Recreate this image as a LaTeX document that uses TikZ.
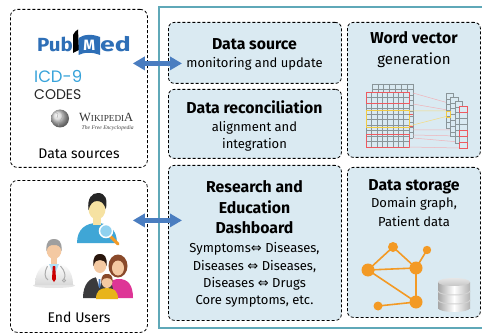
\documentclass[tikz,border=0pt]{standalone}
\usepackage{fontspec}
\setmainfont{Fira Sans}
\newfontfamily\symfont{DejaVu Sans}
\newfontfamily\logofont{Poppins}
\newfontfamily\wikifont{Liberation Serif}
\usetikzlibrary{arrows.meta,calc}
\definecolor{panel}{HTML}{DAEAF2}
\definecolor{frameteal}{HTML}{5FA8B8}
\definecolor{arrowblue}{HTML}{4A7DC0}
\definecolor{pubblue}{HTML}{2E6FB7}
\definecolor{icdblue}{HTML}{37A3DA}
\definecolor{gridgrey}{HTML}{8A9599}
\definecolor{gridred}{HTML}{EE5A60}
\definecolor{gridyellow}{HTML}{F2CC45}
\definecolor{linkpink}{HTML}{F1B2B8}
\definecolor{graphorange}{HTML}{F39A25}
\definecolor{userblue}{HTML}{3FA6D6}
\definecolor{skinlight}{HTML}{F6E2A2}
\definecolor{skin}{HTML}{F4C9A2}
\definecolor{lensblue}{HTML}{8FD1EF}
\definecolor{hairbrown}{HTML}{8A4A2B}
\definecolor{suit}{HTML}{3A3A3C}
\definecolor{dresspink}{HTML}{DE3596}
\definecolor{kidyellow}{HTML}{E8B41A}
\newcommand{\eqv}{{\symfont\char"21D4}}
\tikzset{
  panelbox/.style={draw=black, dash pattern=on 3pt off 2pt, line width=0.8pt,
    rounded corners=6pt, fill=panel, anchor=north west, inner sep=0pt},
  groupbox/.style={draw=black, dash pattern=on 3pt off 2pt, line width=0.8pt,
    rounded corners=7pt, anchor=north west, inner sep=0pt},
  ttl/.style={font=\fontsize{15.8}{17}\selectfont\bfseries, anchor=base, inner sep=0pt},
  txt/.style={font=\fontsize{13}{15}\selectfont, anchor=base, inner sep=0pt},
  grplabel/.style={font=\fontsize{14}{16}\selectfont, anchor=base, inner sep=0pt},
  biarrow/.style={arrowblue, line width=4.3pt,
    {Triangle[width=13pt,length=12pt]}-{Triangle[width=13pt,length=12pt]}},
  edge/.style={graphorange, line width=1.6pt},
  vtx/.style={fill=graphorange},
}
\begin{document}
\begin{tikzpicture}[x=1pt,y=-1pt]
\useasboundingbox (0,0) rectangle (482,334);
\clip (0,0) rectangle (482,334);
\fill[white] (0,0) rectangle (482,334);

% outer frame of the platform
\draw[frameteal, line width=1.3pt] (159,7) rectangle (495,328);

% left groups
\node[groupbox, minimum width=137pt, minimum height=158pt] (srcgrp) at (10,9) {};
\node[groupbox, minimum width=137pt, minimum height=152pt] (usrgrp) at (10,180) {};

% panels
\node[panelbox, minimum width=173pt, minimum height=61pt]  (dsrc)  at (168,22) {};
\node[panelbox, minimum width=173pt, minimum height=69pt]  (drec)  at (168,89) {};
\node[panelbox, minimum width=173pt, minimum height=155pt] (dash)  at (168,165) {};
\node[panelbox, minimum width=133pt, minimum height=135pt] (wvec)  at (347,22) {};
\node[panelbox, minimum width=133pt, minimum height=150pt] (dstor) at (347,167) {};

% panel texts
\node[ttl] (t1) at (254.5,49.5) {Data source};
\node[txt] (t2) at (254.5,67.5) {monitoring and update};
\node[ttl] (t3) at (254.5,113.5) {Data reconciliation};
\node[txt] (t4) at (254.5,131.5) {alignment and};
\node[txt] (t5) at (254.5,148.5) {integration};
\node[ttl] (t6) at (254.5,192.5) {Research and};
\node[ttl] (t7) at (254.5,213) {Education};
\node[ttl] (t8) at (254.5,233.5) {Dashboard};
\node[txt] (t9) at (254.5,252.5) {Symptoms\eqv\ Diseases,};
\node[txt] (t10) at (254.5,270.5) {Diseases \eqv\ Diseases,};
\node[txt] (t11) at (254.5,287.5) {Diseases \eqv\ Drugs};
\node[txt] (t12) at (254.5,304.5) {Core symptoms, etc.};
\node[ttl] (t13) at (414,43.5) {Word vector};
\node[txt, font=\fontsize{15}{16}\selectfont] (t14) at (414,65) {generation};
\node[ttl] (t15) at (414,190.5) {Data storage};
\node[txt] (t16) at (414,207.5) {Domain graph,};
\node[txt] (t17) at (414,226.5) {Patient data};

% group labels
\node[grplabel] (g1) at (79,158) {Data sources};
\node[grplabel] (g2) at (79,322) {End Users};

% ---- PubMed logo
\node[font=\fontsize{19}{19}\selectfont\bfseries, text=pubblue, anchor=base east, inner sep=0pt] (pub) at (73,52) {\scalebox{1.08}[1]{Pub}};
\fill[black] (73,53) -- (73,35) .. controls (74.5,32) and (76,30.5) .. (78,29.5) -- (79,50) -- cycle;
\fill[pubblue] (78.5,55) -- (78.5,38) .. controls (84,34) and (93,34) .. (100,37) -- (100,55) .. controls (93,52) and (84,52) .. (78.5,55) -- cycle;
\node[font=\fontsize{15}{15}\selectfont\bfseries, text=white, anchor=base, inner sep=0pt] (pubm) at (89.3,51) {M};
\node[font=\fontsize{19}{19}\selectfont\bfseries, text=pubblue, anchor=base west, inner sep=0pt] (pubed) at (100,52) {\scalebox{1.4}[1.05]{ed}};

% ---- ICD-9 codes
\node[font=\logofont\fontsize{16.5}{17}\selectfont, text=icdblue, anchor=base west, inner sep=0pt] (icd) at (34,82.5) {ICD-9};
\node[font=\logofont\fontsize{14}{15}\selectfont, text=black!85, anchor=base west, inner sep=0pt] (codes) at (34,100) {CODES};

% ---- Wikipedia
\shade[ball color=gray!35] (60,118.5) circle (9);
\draw[gray!70, line width=0.4pt] (55,112) -- (58,114) -- (57,118) (61,111) -- (63,116) -- (60,121) (54,121) -- (58,123) -- (59,126);
\node[font=\wikifont, text=black!80, anchor=base west, inner sep=0pt] (wiki) at (79,121.5)
  {\fontsize{12.5}{13}\selectfont W\fontsize{9.2}{10}\selectfont IKIPEDI\fontsize{12.5}{13}\selectfont A};
\node[font=\wikifont\itshape\fontsize{5.6}{6}\selectfont, text=black!75, anchor=base west, inner sep=0pt] (wikitag) at (81.5,129.5) {The Free Encyclopedia};

% ---- user with magnifier
\fill[userblue] (77,243) .. controls (77,229) and (86,223) .. (97,223) .. controls (108,223) and (117,229) .. (117,243) -- cycle;
\fill[skinlight] (93,214) rectangle (101,225);
\fill[skinlight] (97,209) ellipse [x radius=8.5, y radius=10.5];
\fill[black!85] (88.5,210) .. controls (87,198) and (92,193) .. (98,193) .. controls (105,193) and (108,199) .. (105.8,209) .. controls (104,203) and (101,201) .. (97,201) .. controls (93,201) and (90,204) .. (88.5,210) -- cycle;
\draw[graphorange, line width=3pt, line cap=round] (110.5,236.5) -- (118,244);
\filldraw[fill=lensblue, draw=white, line width=1.5pt] (106,231) circle (6.5);

% ---- doctor
\fill[black!10] (54,285.5) ellipse [x radius=21, y radius=2.5];
\shade[top color=white, bottom color=gray!30] (35,285) .. controls (35,270) and (43,263) .. (54,263) .. controls (65,263) and (73,270) .. (73,285) -- cycle;
\fill[skin] (51,257) rectangle (57,266);
\fill[lensblue!70] (49,264) -- (59,264) -- (54,276) -- cycle;
\fill[red!80!black] (52.8,266) -- (55.2,266) -- (56,279) -- (54,282) -- (52,279) -- cycle;
\fill[skin] (54,250) ellipse [x radius=7.5, y radius=9];
\fill[gray!75] (46.5,251) .. controls (45.5,241) and (50,239) .. (54,239) .. controls (58,239) and (62.5,241) .. (61.5,251) .. controls (60.5,246) and (58,245) .. (54,245) .. controls (50,245) and (47.5,246) .. (46.5,251) -- cycle;
\draw[gray!65, line width=1pt] (47.5,266) .. controls (44,272) and (44.5,278) .. (48,280);
\draw[gray!65, line width=1pt] (60.5,266) .. controls (65,271) and (66,276) .. (64,279);
\filldraw[fill=gray!40, draw=gray!70, line width=0.5pt] (64,280.5) circle (1.8);

% ---- family
\fill[hairbrown] (118,266) ellipse [x radius=9.5, y radius=11.5];
\fill[dresspink] (105,298) .. controls (105,285) and (110,279) .. (119,279) .. controls (128,279) and (133,285) .. (133,298) -- cycle;
\fill[skin] (118,268) ellipse [x radius=6, y radius=7.5];
\fill[suit] (83,298) .. controls (83,284) and (90,277) .. (99,277) .. controls (106,277) and (112,281) .. (113,289) -- (113,298) -- cycle;
\fill[white] (96,277) -- (103,277) -- (99.5,288) -- cycle;
\fill[arrowblue] (98.7,279) -- (100.3,279) -- (100.6,286) -- (99.5,288) -- (98.4,286) -- cycle;
\fill[skin] (100,265) ellipse [x radius=6.5, y radius=8];
\fill[black!70!hairbrown] (93.5,266) .. controls (92.5,256) and (96,254) .. (100,254) .. controls (104,254) and (107.5,256) .. (106.5,266) .. controls (105.5,261) and (103,260) .. (100,260) .. controls (97,260) and (94.5,261) .. (93.5,266) -- cycle;
\fill[kidyellow] (96,299) .. controls (96,291) and (100,288) .. (107,288) .. controls (114,288) and (118,291) .. (118,299) -- cycle;
\fill[skin] (107,281.5) ellipse [x radius=5.5, y radius=6.5];
\fill[hairbrown] (101.5,282) .. controls (101,275) and (104,274) .. (107,274) .. controls (110,274) and (113,275) .. (112.5,282) .. controls (111.5,278.5) and (109,278) .. (107,278) .. controls (105,278) and (102.5,278.5) .. (101.5,282) -- cycle;

% ---- word vector sketch
\begin{scope}[line width=0.5pt]
  % back matrix
  \fill[panel] (372,84) rectangle (413,138);
  \foreach \i in {0,...,7} \draw[gridgrey] (372+\i*5.857,84) -- (372+\i*5.857,138);
  \foreach \j in {0,...,10} \draw[gridgrey] (372,84+\j*5.4) -- (413,84+\j*5.4);
  % front matrix
  \fill[panel] (366,92) rectangle (409,147);
  \foreach \i in {0,...,8} \draw[gridgrey] (366+\i*5.375,92) -- (366+\i*5.375,147);
  \foreach \j in {0,...,10} \draw[gridgrey] (366,92+\j*5.5) -- (409,92+\j*5.5);
  \draw[gridred, line width=0.8pt] (366,92) rectangle (409,103);
  \draw[gridyellow, line width=0.8pt] (366,110) rectangle (409,127);
  \draw[gridred, line width=0.8pt] (366,134) rectangle (409,147);
  \draw[gridred, line width=0.8pt] (409,114) -- (413,114) (409,126) -- (413,126);
  % links
  \draw[linkpink] (413,93) -- (459,106) (413,104) -- (459,112) (413,130) -- (459,130)
    (413,135) -- (459,136) (413,138) -- (459,142) (409,147) -- (459,148);
  \draw[gridyellow!70] (409,111) -- (446,111) (409,126) -- (446,116.5);
  % column vectors
  \foreach \c/\t/\b in {446/93/128, 450.5/97/136, 455/101/143} {
    \fill[panel] (\c,\t) rectangle (\c+7.5,\b);
    \draw[gridgrey] (\c,\t) rectangle (\c+7.5,\b);
    \foreach \k in {1,...,6} \draw[gridgrey] (\c,\t+\k*5.8) -- (\c+7.5,\t+\k*5.8);
  }
  \draw[gridyellow, line width=0.8pt] (446,111) rectangle (450,117);
  \fill[panel] (459,106) rectangle (467,148);
  \foreach \k in {0,...,6} \draw[gridgrey] (459,106+\k*6) rectangle (467,112+\k*6);
  \draw[gridred, line width=0.8pt] (459,106) rectangle (467,112);
  \draw[gridred, line width=0.8pt] (459,130) rectangle (467,136);
  \draw[gridred, line width=0.8pt] (459,142) rectangle (467,148);
\end{scope}

% ---- domain graph
\coordinate (ga) at (368,270);
\coordinate (gb) at (393,247);
\coordinate (gc) at (427,250);
\coordinate (gd) at (416,268);
\coordinate (ge) at (416,302);
\coordinate (gf) at (378,306);
\draw[edge] (ga) -- (gb) -- (gd) -- (gc) (ga) -- (gd) -- (ge) -- (ga) (gf) -- (ge);
\fill[vtx] (ga) circle (6.5) (gd) circle (6.5) (ge) circle (6.5)
  (gb) circle (5) (gc) circle (4.2) (gf) circle (4.5);

% ---- database
\shade[left color=gray!70, right color=gray!60, middle color=white] (438,282) rectangle (470,308);
\shade[left color=gray!70, right color=gray!60, middle color=white] (454,308) ellipse [x radius=16, y radius=4];
\draw[gray!35, line width=1pt] (438,291) .. controls (438,296.3) and (470,296.3) .. (470,291);
\draw[gray!35, line width=1pt] (438,300) .. controls (438,305.3) and (470,305.3) .. (470,300);
\shade[top color=gray!20, bottom color=gray!45] (454,282) ellipse [x radius=16, y radius=4];

% ---- connectors
\draw[biarrow] ([xshift=-15pt,yshift=25pt]srcgrp.east) -- ([xshift=14pt,yshift=-10.5pt]dsrc.west);
\draw[biarrow] ([xshift=-15pt,yshift=36pt]usrgrp.east) -- ([xshift=14pt,yshift=22.5pt]dash.west);
\end{tikzpicture}
\end{document}
